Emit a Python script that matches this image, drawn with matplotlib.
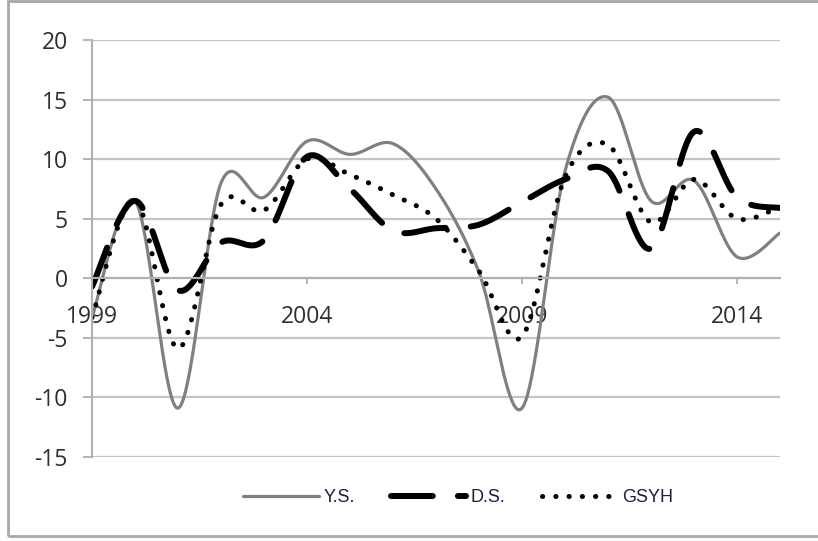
import numpy as np
import matplotlib
matplotlib.use("Agg")
import matplotlib.pyplot as plt
from matplotlib.patches import Rectangle

# values
years = list(range(1999, 2016))
ys = [-3.3, 6.5, -10.9, 8.0, 6.8, 11.5, 10.4, 11.3, 7.5, 0.5, -10.9, 9.0, 15.2, 6.5, 8.2, 1.8, 3.8]
ds = [-0.7, 6.5, -1.0, 3.0, 3.2, 10.2, 7.5, 4.0, 4.2, 4.5, 6.4, 8.3, 9.0, 2.5, 12.3, 6.8, 5.9]
gsyh = [-3.3, 6.6, -5.9, 6.2, 5.7, 10.0, 8.7, 7.0, 5.0, 0.6, -4.9, 8.5, 11.2, 4.7, 8.3, 5.0, 6.0]
labels = ["Y.S.", "D.S.", "GSYH"]
xticks = [1999, 2004, 2009, 2014]


def smooth(x, y, n=40):
    # Excel style smoothed line (Catmull-Rom bezier, duplicated end points)
    x = np.asarray(x, float)
    y = np.asarray(y, float)
    px = np.concatenate([[x[0]], x, [x[-1]]])
    py = np.concatenate([[y[0]], y, [y[-1]]])
    t = np.linspace(0, 1, n)[:, None]
    outx, outy = [], []
    for i in range(1, len(px) - 2):
        p0 = np.array([px[i], py[i]])
        p3 = np.array([px[i + 1], py[i + 1]])
        p1 = p0 + (np.array([px[i + 1], py[i + 1]]) - np.array([px[i - 1], py[i - 1]])) / 6
        p2 = p3 - (np.array([px[i + 2], py[i + 2]]) - np.array([px[i], py[i]])) / 6
        b = (1 - t) ** 3 * p0 + 3 * (1 - t) ** 2 * t * p1 + 3 * (1 - t) * t ** 2 * p2 + t ** 3 * p3
        outx.append(b[:, 0])
        outy.append(b[:, 1])
    return np.concatenate(outx), np.concatenate(outy)


fig = plt.figure(figsize=(8.18, 5.41), dpi=100)
ax = fig.add_axes([92 / 818, 1 - 457 / 541, (780 - 92) / 818, (457 - 40) / 541])

tick_font = {"family": "Open Sans", "size": 16.5, "color": "#2e2e2e"}

ax.set_ylim(-15, 20)
ax.set_xlim(1999, 2015)
ax.set_yticks(np.arange(-15, 21, 5))
ax.yaxis.grid(True, color="#c4c4c4", lw=1.6)
ax.set_axisbelow(True)

for s in ["top", "right"]:
    ax.spines[s].set_visible(False)
ax.spines["left"].set_color("#b0b0b0")
ax.spines["left"].set_linewidth(1.5)
ax.spines["bottom"].set_position(("data", 0))
ax.spines["bottom"].set_color("#b0b0b0")
ax.spines["bottom"].set_linewidth(1.5)

ax.set_xticks(xticks)
ax.set_xticklabels([str(v) for v in xticks], fontdict=tick_font)
ax.set_yticklabels([str(v) for v in range(-15, 21, 5)], fontdict=tick_font)
ax.tick_params(axis="y", length=6.5, width=1.3, color="#b0b0b0", pad=11)
ax.tick_params(axis="x", length=4, width=1.3, color="#b0b0b0", pad=15)

x1, y1 = smooth(years, ys)
x2, y2 = smooth(years, ds)
x3, y3 = smooth(years, gsyh)

ax.plot(x1, y1, color="#808080", lw=2.3, label=labels[0], solid_capstyle="round")
ax.plot(x2, y2, color="black", lw=4.3, linestyle=(0, (7, 4.2)),
        dash_capstyle="round", label=labels[1])
ax.plot(x3, y3, color="black", lw=3.6, linestyle=(0, (0.05, 2.6)),
        dash_capstyle="round", label=labels[2])

leg = ax.legend(loc="center", bbox_to_anchor=(458 / 818, 1 - 498 / 541),
                bbox_transform=fig.transFigure, ncol=3, frameon=False,
                handlelength=4.2, columnspacing=2.0, handletextpad=0.25,
                prop={"family": "Liberation Sans", "size": 13})
for t in leg.get_texts():
    t.set_color("#1c1c44")

# outer chart frame
fig.patches.append(Rectangle((8 / 818, 1 - 536 / 541), 1.2, 535 / 541,
                             transform=fig.transFigure, fill=False,
                             edgecolor="#a8a8a8", lw=2))

fig.savefig("out.png", dpi=100)
